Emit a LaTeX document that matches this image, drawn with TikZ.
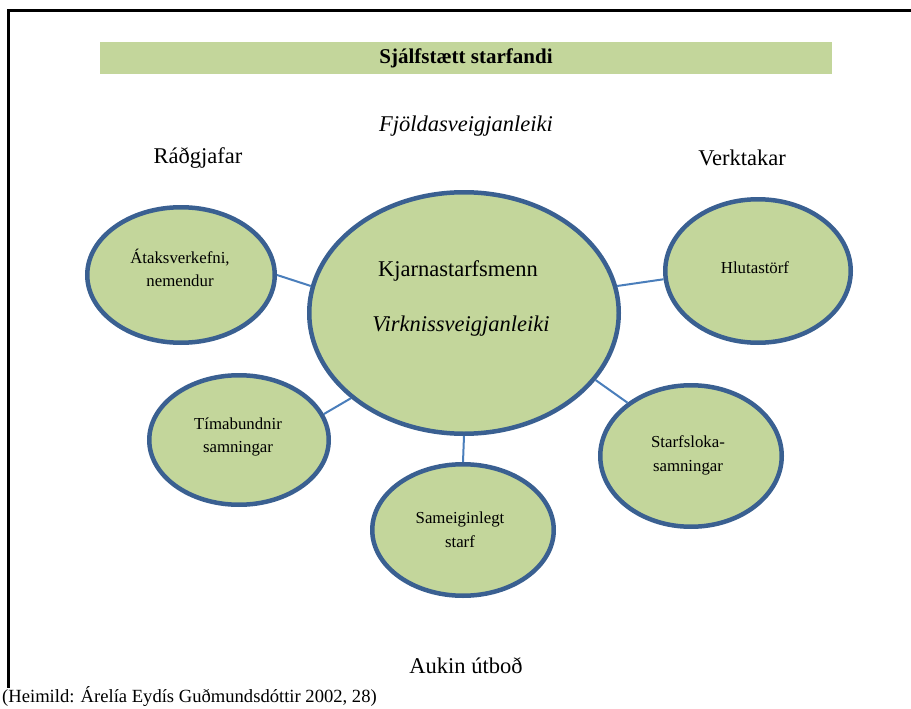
\documentclass[tikz,border=0pt]{standalone}
\usepackage{fontspec}
\setmainfont{Liberation Serif}
\usetikzlibrary{shapes.geometric}
\definecolor{bannergreen}{HTML}{C3D69B}
\definecolor{ellfill}{HTML}{C3D69B}
\definecolor{elldraw}{HTML}{3A6091}
\definecolor{connblue}{HTML}{4A7EBB}
\tikzset{
  ell/.style={ellipse, draw=elldraw, line width=4.5pt, fill=ellfill, inner sep=0pt},
  conn/.style={draw=connblue, line width=2pt},
  smalltxt/.style={font=\fontsize{16.8}{23.5}\selectfont, align=center},
  bigtxt/.style={font=\fontsize{22.5}{27}\selectfont}
}
\begin{document}
\begin{tikzpicture}[x=1pt,y=-1pt]
\useasboundingbox (0,0) rectangle (911,709);
% frame
\draw[line width=3pt] (911,11) -- (8,11) -- (8,688);
% banner
\fill[bannergreen] (100,42) rectangle (832,74);
\node[font=\fontsize{21}{25}\selectfont\bfseries] (title) at (466,58.5) {Sjálfstætt starfandi};
% top labels
\node[bigtxt, font=\fontsize{22.5}{27}\selectfont\itshape] (fjold) at (466,126) {Fjöldasveigjanleiki};
\node[bigtxt] (radg) at (198,158) {Ráðgjafar};
\node[bigtxt] (verk) at (742,158) {Verktakar};
% ellipses
\node[ell, minimum width=309.5pt, minimum height=241.5pt] (core) at (464,313) {};
\node[ell, minimum width=187.5pt, minimum height=135.5pt] (atak) at (181,275) {};
\node[ell, minimum width=185.5pt, minimum height=143.5pt] (hluta) at (758,271) {};
\node[ell, minimum width=179.5pt, minimum height=129.5pt] (tima) at (239,440) {};
\node[ell, minimum width=181.5pt, minimum height=131.5pt] (same) at (463,530) {};
\node[ell, minimum width=181.5pt, minimum height=141.5pt] (start) at (691,456) {};
% connectors
\draw[conn] (atak.0) -- (core.170);
\draw[conn] (hluta.185) -- (core.10);
\draw[conn] (tima.17) -- (core.217);
\draw[conn] (same.north) -- (core.south);
\draw[conn] (start.140) -- (core.-27);
% texts
\node[bigtxt] (coreA) at (458,271) {Kjarnastarfsmenn};
\node[bigtxt, font=\fontsize{22.5}{27}\selectfont\itshape] (coreB) at (461,326) {Virknissveigjanleiki};
\node[smalltxt] (atakT) at (180,268) {Átaksverkefni,\\nemendur};
\node[smalltxt] (hlutaT) at (755,268) {Hlutastörf};
\node[smalltxt] (timaT) at (238,437) {Tímabundnir\\samningar};
\node[smalltxt] (sameT) at (460,529.5) {Sameiginlegt\\starf};
\node[smalltxt] (startT) at (688,455.5) {Starfsloka-\\samningar};
% bottom
\node[bigtxt] (aukin) at (466,666) {Aukin útboð};
\node[anchor=west, font=\fontsize{18.6}{22}\selectfont, inner sep=0pt] (heim) at (2,697) {(Heimild: Árelía Eydís Guðmundsdóttir 2002, 28)};
\end{tikzpicture}
\end{document}
